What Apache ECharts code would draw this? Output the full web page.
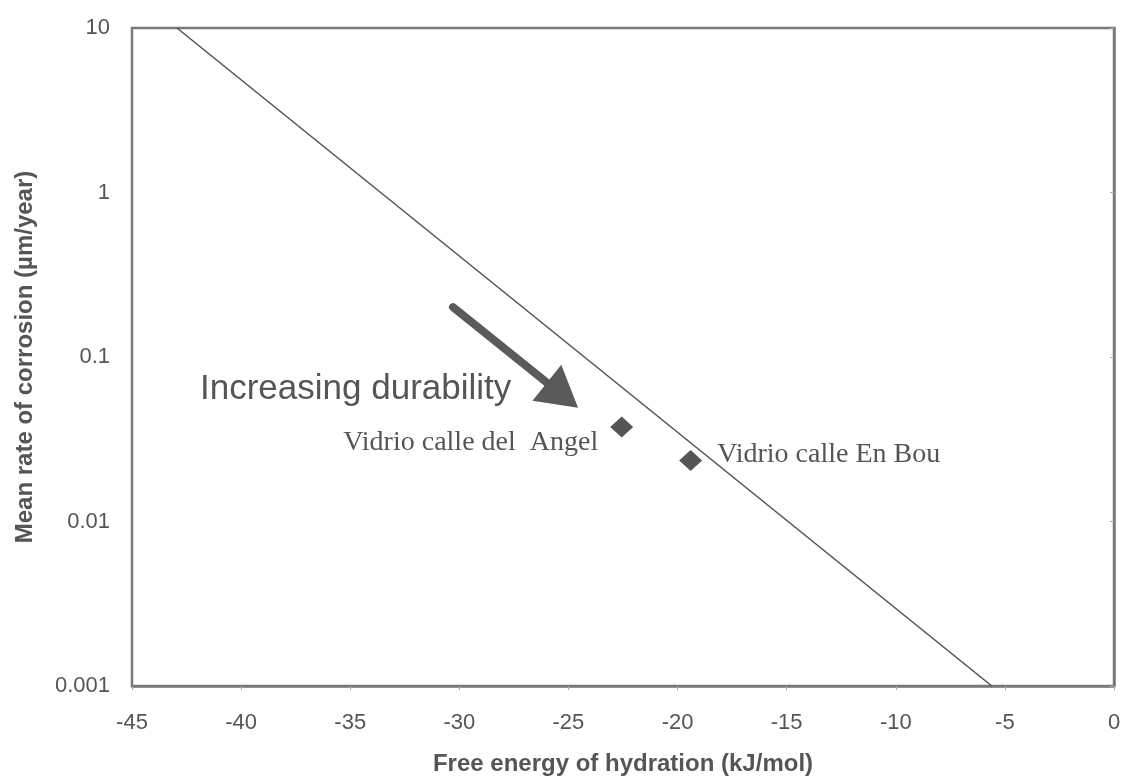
<!DOCTYPE html>
<html>
<head>
<meta charset="utf-8">
<script src="https://cdn.jsdelivr.net/npm/echarts@6/dist/echarts.min.js"></script>
<style>html,body{margin:0;padding:0;background:#fff;overflow:hidden}#c{width:1124px;height:781px}</style>
</head>
<body>
<div id="c"></div>
<script>
// Data
const xTicks = [-45, -40, -35, -30, -25, -20, -15, -10, -5, 0];
const yTickLabels = ['0.001', '0.01', '0.1', '1', '10'];
const trendLine = [[-42.94, 10], [-5.6, 0.001]];
const glassNames = ['Vidrio calle del  Angel', 'Vidrio calle En Bou'];
const glassX = [-22.56, -19.4];
const glassY = [0.0375, 0.0235];
const arrowStart = [-30.29, 0.201];
const arrowTip = [-24.56, 0.0491];
const annotationText = 'Increasing durability';
const annotationAnchor = [-45, 0.064]; // left edge / vertical middle of the annotation text

const chart = echarts.init(document.getElementById('c'));
const sans = '"Liberation Sans", Arial, sans-serif';
const serif = '"Liberation Serif", "Times New Roman", serif';
const txt = '#555';

chart.setOption({
  backgroundColor: '#fff',
  animation: false,
  grid: { left: 132, right: 10, top: 28, bottom: 89, show: true, borderColor: '#7a7a7a', borderWidth: 2.5 },
  xAxis: {
    type: 'value', min: -45, max: 0, interval: 5,
    name: 'Free energy of hydration (kJ/mol)', nameLocation: 'middle', nameGap: 66,
    nameTextStyle: { fontFamily: sans, fontSize: 24, fontWeight: 'bold', color: txt },
    axisLine: { show: true, lineStyle: { color: '#7a7a7a', width: 2.5 } },
    axisTick: { show: true, length: 4, inside: false, lineStyle: { color: '#aaa' } },
    axisLabel: { fontFamily: sans, fontSize: 22, color: txt, margin: 26,
      formatter: function (v) { return String(v); } },
    splitLine: { show: false }
  },
  yAxis: {
    type: 'log', min: 0.001, max: 10, logBase: 10,
    name: 'Mean rate of corrosion (µm/year)', nameLocation: 'middle', nameGap: 95,
    nameTextStyle: { fontFamily: sans, fontSize: 24, fontWeight: 'bold', color: txt },
    axisLine: { show: true, lineStyle: { color: '#7a7a7a', width: 2.5 } },
    axisTick: { show: true, length: 4, lineStyle: { color: '#aaa' } },
    axisLabel: {
      fontFamily: sans, fontSize: 22, color: txt, margin: 22,
      formatter: function (v) {
        const e = Math.round(Math.log10(v));
        return yTickLabels[e + 3];
      }
    },
    splitLine: { show: false }
  },
  series: [
    {
      type: 'line', data: trendLine, symbol: 'none',
      lineStyle: { color: '#555', width: 1.6 }, z: 2
    },
    {
      type: 'scatter', symbol: 'diamond', symbolSize: [23, 21],
      itemStyle: { color: '#555', opacity: 1 },
      data: [
        { value: [glassX[0], glassY[0]], name: glassNames[0],
          label: { show: true, position: 'left', distance: 12, offset: [0, 16] } },
        { value: [glassX[1], glassY[1]], name: glassNames[1],
          label: { show: true, position: 'right', distance: 15, offset: [0, -6] } }
      ],
      label: { formatter: '{b}', fontFamily: serif, fontSize: 28, color: txt },
      z: 3
    }
  ]
});

// Annotation arrow and text, positioned from data coordinates
const s = chart.convertToPixel({ gridIndex: 0 }, arrowStart);
const t = chart.convertToPixel({ gridIndex: 0 }, arrowTip);
const dx = t[0] - s[0], dy = t[1] - s[1];
const len = Math.sqrt(dx * dx + dy * dy);
const ux = dx / len, uy = dy / len;
const nx = -uy, ny = ux;
const headLen = 40, headHalf = 23;
const bx = t[0] - ux * headLen, by = t[1] - uy * headLen;
const a = chart.convertToPixel({ gridIndex: 0 }, annotationAnchor);

chart.setOption({
  graphic: [
    {
      type: 'line', silent: true,
      shape: { x1: s[0], y1: s[1], x2: bx + ux * 4, y2: by + uy * 4 },
      style: { stroke: '#5a5a5a', lineWidth: 8, lineCap: 'round' }
    },
    {
      type: 'polygon', silent: true,
      shape: { points: [[t[0], t[1]], [bx + nx * headHalf, by + ny * headHalf], [bx - nx * headHalf, by - ny * headHalf]] },
      style: { fill: '#5a5a5a' }
    },
    {
      type: 'text', silent: true, x: a[0] + 68, y: a[1],
      style: { text: annotationText, fontFamily: sans, fontSize: 35, fill: txt, verticalAlign: 'middle' }
    }
  ]
});
</script>
</body>
</html>
